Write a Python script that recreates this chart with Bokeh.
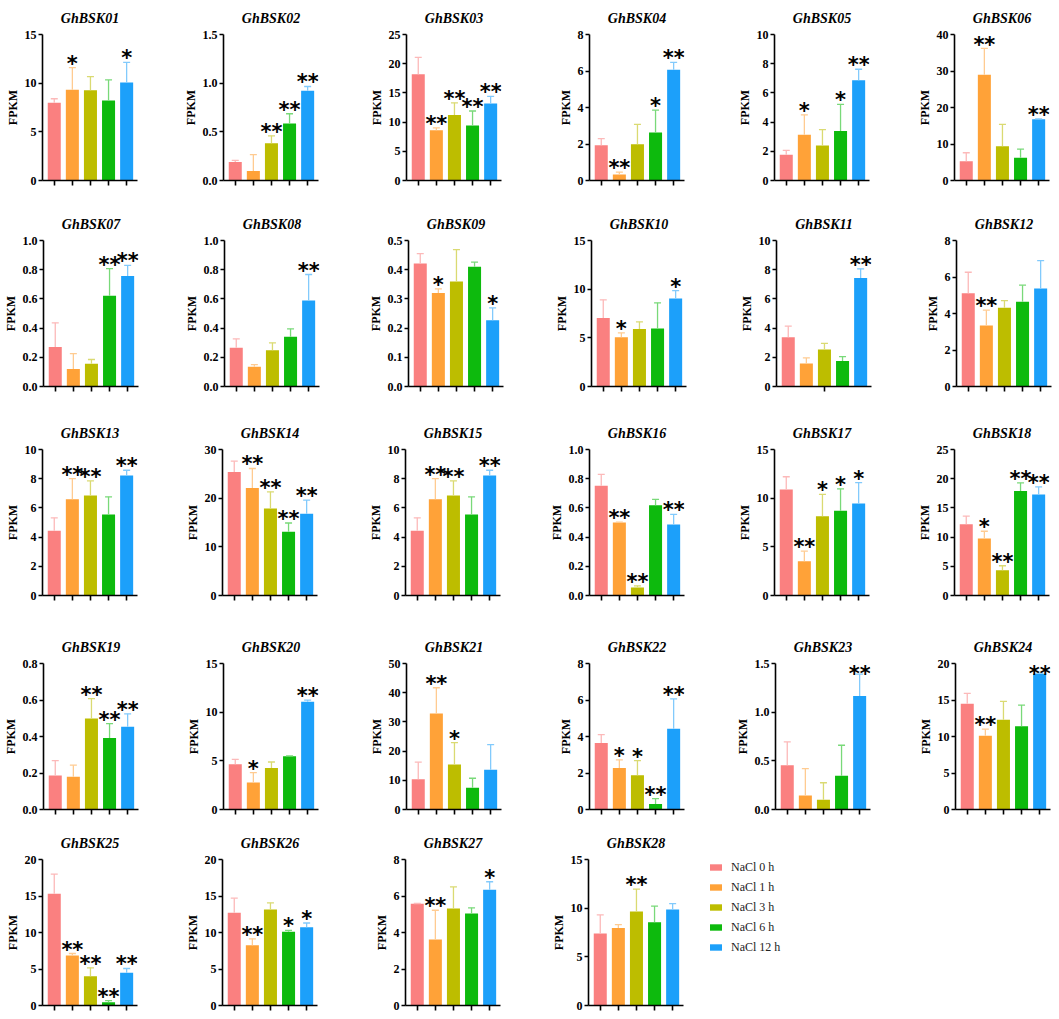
from bokeh.plotting import figure
from bokeh.layouts import column, row
from bokeh.models import (ColumnDataSource, Range1d, FixedTicker, LabelSet, Legend,
                          LegendItem, NumeralTickFormatter, CustomLabelingPolicy)
from bokeh.core.properties import value
from bokeh.embed import file_html
from bokeh.resources import INLINE

# ---------------- data ----------------
genes = ["GhBSK01", "GhBSK02", "GhBSK03", "GhBSK04", "GhBSK05", "GhBSK06",
         "GhBSK07", "GhBSK08", "GhBSK09", "GhBSK10", "GhBSK11", "GhBSK12",
         "GhBSK13", "GhBSK14", "GhBSK15", "GhBSK16", "GhBSK17", "GhBSK18",
         "GhBSK19", "GhBSK20", "GhBSK21", "GhBSK22", "GhBSK23", "GhBSK24",
         "GhBSK25", "GhBSK26", "GhBSK27", "GhBSK28"]
conditions = ["NaCl 0 h", "NaCl 1 h", "NaCl 3 h", "NaCl 6 h", "NaCl 12 h"]
bar_colors = ["#FA8080", "#FFA238", "#BDBD00", "#0DBA0D", "#1CA0FA"]

mean_fpkm = [
    [8.0, 9.33, 9.27, 8.23, 10.07],
    [0.19, 0.097, 0.383, 0.586, 0.921],
    [18.2, 8.6, 11.2, 9.4, 13.2],
    [1.93, 0.33, 1.99, 2.63, 6.07],
    [1.76, 3.13, 2.4, 3.39, 6.86],
    [5.3, 29.0, 9.4, 6.2, 16.8],
    [0.27, 0.12, 0.155, 0.622, 0.756],
    [0.265, 0.135, 0.249, 0.34, 0.589],
    [0.421, 0.32, 0.36, 0.41, 0.227],
    [7.05, 5.07, 5.92, 5.96, 9.04],
    [3.38, 1.58, 2.53, 1.74, 7.44],
    [5.11, 3.34, 4.31, 4.64, 5.37],
    [4.43, 6.6, 6.85, 5.55, 8.22],
    [25.4, 22.1, 17.9, 13.1, 16.8],
    [4.43, 6.6, 6.85, 5.55, 8.22],
    [0.751, 0.5, 0.055, 0.619, 0.486],
    [10.9, 3.53, 8.15, 8.7, 9.45],
    [12.2, 9.77, 4.34, 17.9, 17.3],
    [0.186, 0.18, 0.498, 0.392, 0.453],
    [4.64, 2.78, 4.26, 5.46, 11.07],
    [10.4, 32.9, 15.4, 7.45, 13.6],
    [3.65, 2.28, 1.88, 0.3, 4.43],
    [0.454, 0.144, 0.1, 0.346, 1.165],
    [14.5, 10.1, 12.3, 11.4, 18.6],
    [15.3, 6.85, 4.02, 0.46, 4.47],
    [12.7, 8.26, 13.15, 10.1, 10.73],
    [5.57, 3.62, 5.31, 5.04, 6.34],
    [7.4, 7.95, 9.66, 8.55, 9.87],
]
upper_fpkm = [
    [8.4, 11.6, 10.67, 10.33, 12.13],
    [0.207, 0.265, 0.459, 0.686, 0.966],
    [21.1, 9.0, 13.3, 11.9, 14.4],
    [2.3, 0.46, 3.07, 3.86, 6.47],
    [2.06, 4.5, 3.48, 5.22, 7.62],
    [7.6, 36.2, 15.4, 8.6, 16.9],
    [0.436, 0.225, 0.185, 0.807, 0.83],
    [0.326, 0.15, 0.299, 0.395, 0.767],
    [0.455, 0.334, 0.469, 0.426, 0.269],
    [8.9, 5.5, 6.64, 8.6, 9.86],
    [4.13, 1.96, 2.95, 2.05, 8.06],
    [6.26, 4.18, 4.71, 5.55, 6.9],
    [5.32, 8.01, 7.85, 6.76, 8.58],
    [27.6, 26.1, 21.3, 14.9, 19.6],
    [5.32, 8.01, 7.85, 6.76, 8.58],
    [0.829, 0.502, 0.066, 0.658, 0.555],
    [12.2, 4.55, 10.38, 10.96, 11.6],
    [13.6, 11.0, 5.09, 19.3, 18.6],
    [0.268, 0.243, 0.608, 0.471, 0.524],
    [5.15, 3.78, 4.88, 5.5, 11.24],
    [16.2, 41.7, 22.9, 10.7, 22.2],
    [4.1, 2.72, 2.68, 0.6, 6.06],
    [0.694, 0.42, 0.275, 0.66, 1.39],
    [15.9, 11.0, 14.8, 14.3, 18.7],
    [18.0, 7.12, 5.16, 0.68, 5.07],
    [14.7, 9.13, 14.06, 10.3, 11.3],
    [5.59, 5.22, 6.5, 5.35, 6.78],
    [9.31, 8.3, 11.96, 10.22, 10.46],
]
signif = [
    ["", "*", "", "", "*"],
    ["", "", "**", "**", "**"],
    ["", "**", "**", "**", "**"],
    ["", "**", "", "*", "**"],
    ["", "*", "", "*", "**"],
    ["", "**", "", "", "**"],
    ["", "", "", "**", "**"],
    ["", "", "", "", "**"],
    ["", "*", "", "", "*"],
    ["", "*", "", "", "*"],
    ["", "", "", "", "**"],
    ["", "**", "", "", ""],
    ["", "**", "**", "", "**"],
    ["", "**", "**", "**", "**"],
    ["", "**", "**", "", "**"],
    ["", "**", "**", "", "**"],
    ["", "**", "*", "*", "*"],
    ["", "*", "**", "**", "**"],
    ["", "", "**", "**", "**"],
    ["", "*", "", "", "**"],
    ["", "**", "*", "", ""],
    ["", "*", "*", "**", "**"],
    ["", "", "", "", "**"],
    ["", "**", "", "", "**"],
    ["", "**", "**", "**", "**"],
    ["", "**", "", "*", "*"],
    ["", "**", "", "", "*"],
    ["", "", "**", "", ""],
]
y_max = [15, 1.5, 25, 8, 10, 40,
         1.0, 1.0, 0.5, 15, 10, 8,
         10, 30, 10, 1.0, 15, 25,
         0.8, 15, 50, 8, 1.5, 20,
         20, 20, 8, 15]
y_step = [5, 0.5, 5, 2, 2, 10,
          0.2, 0.2, 0.1, 5, 2, 2,
          2, 10, 2, 0.2, 5, 5,
          0.2, 5, 10, 2, 0.5, 5,
          5, 5, 2, 5]
x_ticks_default = [1, 2, 3, 4, 5]
x_ticks_special = {"GhBSK11": [3]}

# ---------------- layout config ----------------
COL_W = [180, 183, 183, 185, 180, 145]
ROW_H = [206, 209, 214, 196, 190]
FRAME_W, FRAME_H = 95, 146
BORDER_L, BORDER_T = 42, 34
STAR_PX = 21          # font size of the significance stars
STAR_GAP = -3         # default offset of star baseline from the error-bar top
STAR_RISE = 16.5      # height of the asterisk glyph top above its baseline


def lighten(hexcol, f=0.45):
    r, g, b = (int(hexcol[i:i + 2], 16) for i in (1, 3, 5))
    r, g, b = (int(c + (255 - c) * f) for c in (r, g, b))
    return "#%02x%02x%02x" % (r, g, b)


err_colors = [lighten(c) for c in bar_colors]
hide_labels = CustomLabelingPolicy(
    code="for (const i of indices) { indices.unset(i) }\nreturn indices")


def make_panel(i, col, rowi, with_legend=False):
    right = COL_W[col] - BORDER_L - FRAME_W
    bottom = ROW_H[rowi] - BORDER_T - FRAME_H
    p = figure(frame_width=FRAME_W, frame_height=FRAME_H,
               x_range=Range1d(0.35, 5.6), y_range=Range1d(0, y_max[i]),
               output_backend="svg", toolbar_location=None, title=genes[i],
               min_border_left=BORDER_L, min_border_right=right,
               min_border_top=BORDER_T, min_border_bottom=bottom)
    xs = [1, 2, 3, 4, 5]
    src = ColumnDataSource(dict(x=xs, mean=mean_fpkm[i], top=upper_fpkm[i],
                                color=bar_colors, ecolor=err_colors,
                                cond=conditions))
    bars = p.vbar(x="x", top="mean", bottom=0, width=0.72, fill_color="color",
                  line_color=None, source=src)
    p.segment(x0="x", y0="mean", x1="x", y1="top", line_color="ecolor",
              line_width=1.3, source=src)
    p.scatter(x="x", y="top", marker="dash", size=7, line_color="ecolor",
              line_width=1.3, source=src)

    keep = [k for k in range(5) if signif[i][k]]
    # keep star glyphs inside the frame (pixel offsets only)
    offs = []
    for k in keep:
        px = upper_fpkm[i][k] / y_max[i] * FRAME_H
        offs.append(min(STAR_GAP, FRAME_H - 1 - STAR_RISE - px))
    star_src = ColumnDataSource(dict(x=[xs[k] for k in keep],
                                     top=[upper_fpkm[i][k] for k in keep],
                                     star=[signif[i][k] for k in keep],
                                     off=offs))
    stars = LabelSet(x="x", y="top", text="star", source=star_src,
                     text_align="center", text_baseline="alphabetic",
                     y_offset="off", text_font=value("DejaVu Sans"),
                     text_font_style="bold", text_font_size="%dpx" % STAR_PX,
                     text_color="black")
    p.add_layout(stars)

    # title
    p.title.text_font = "Liberation Serif"
    p.title.text_font_style = "bold italic"
    p.title.text_font_size = "14px"
    p.title.text_color = "black"
    p.title.align = "center"
    p.title.standoff = 17

    # axes
    for ax in (p.xaxis[0], p.yaxis[0]):
        ax.axis_line_width = 1.6
        ax.axis_line_color = "black"
        ax.major_tick_line_width = 1.6
        ax.major_tick_line_color = "black"
        ax.major_tick_in = 0
        ax.minor_tick_out = 0
        ax.minor_tick_in = 0
    xa = p.xaxis[0]
    xa.ticker = FixedTicker(ticks=x_ticks_special.get(genes[i], x_ticks_default))
    xa.major_tick_out = 5
    xa.major_label_policy = hide_labels
    xa.major_label_text_font_size = "2px"
    xa.major_label_standoff = 0
    ya = p.yaxis[0]
    n = int(round(y_max[i] / y_step[i]))
    ya.ticker = FixedTicker(ticks=[round(k * y_step[i], 6) for k in range(n + 1)])
    ya.formatter = NumeralTickFormatter(format="0.0" if y_step[i] < 1 else "0")
    ya.major_tick_out = 4
    ya.major_label_standoff = 2
    ya.major_label_text_font = "Liberation Serif"
    ya.major_label_text_font_style = "bold"
    ya.major_label_text_font_size = "12px"
    ya.major_label_text_color = "black"
    ya.axis_label = "FPKM"
    ya.axis_label_standoff = 2
    ya.axis_label_text_font = "Liberation Serif"
    ya.axis_label_text_font_style = "bold"
    ya.axis_label_text_font_size = "12px"
    ya.axis_label_text_color = "black"

    p.xgrid.visible = False
    p.ygrid.visible = False
    p.outline_line_color = None

    if with_legend:
        items = [LegendItem(label=conditions[k], renderers=[bars], index=k)
                 for k in range(5)]
        leg = Legend(items=items, location=(25, 50), glyph_width=15,
                     glyph_height=8, label_height=16, spacing=4,
                     label_standoff=8, padding=0, margin=0,
                     border_line_color=None, background_fill_alpha=0,
                     label_text_font="Liberation Serif",
                     label_text_font_size="12px", label_text_color="#222222")
        p.add_layout(leg, "right")
    return p


rows = []
for r in range(5):
    figs = []
    for c in range(6):
        i = r * 6 + c
        if i >= len(genes):
            break
        figs.append(make_panel(i, c, r, with_legend=(i == len(genes) - 1)))
    rows.append(row(*figs))

layout = column(*rows)
open("out.html", "w").write(file_html(layout, INLINE))
